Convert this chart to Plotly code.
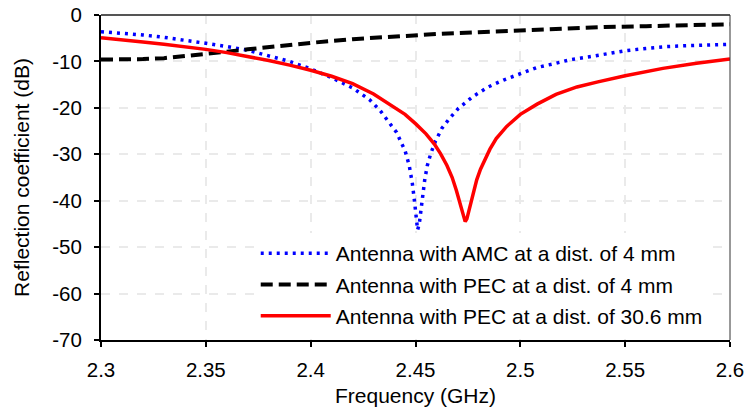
import plotly.graph_objects as go

# Antenna with AMC at 4 mm (blue dotted)
freq_amc = [2.300, 2.310, 2.320, 2.330, 2.340, 2.350, 2.360, 2.370, 2.380, 2.390,
            2.400, 2.410, 2.420, 2.428, 2.433, 2.436, 2.439, 2.441, 2.443, 2.445,
            2.447, 2.4485, 2.4495, 2.4503, 2.451, 2.4518, 2.4525, 2.4533, 2.4544, 2.4556,
            2.4573, 2.4595, 2.4626, 2.4660, 2.4705, 2.4773, 2.4847, 2.4920, 2.5000, 2.5080,
            2.5160, 2.5240, 2.5330, 2.5420, 2.5500, 2.5600, 2.5700, 2.5800, 2.5900, 2.6000]
s11_amc = [-3.6, -3.9, -4.3, -4.8, -5.4, -6.1, -6.8, -7.6, -8.8, -10.0,
           -11.6, -13.5, -15.7, -18.2, -20.5, -22.3, -24.0, -25.3, -27.3, -29.2,
           -32.4, -36.3, -40.0, -43.8, -46.3, -45.0, -42.3, -39.3, -35.5, -32.5,
           -29.8, -27.2, -24.4, -22.4, -20.1, -17.6, -15.5, -14.0, -12.6, -11.3,
           -10.5, -9.6, -9.0, -8.3, -7.7, -7.2, -6.8, -6.6, -6.4, -6.3]

# Antenna with PEC at 4 mm (black dashed)
freq_pec4 = [2.300, 2.310, 2.320, 2.330, 2.340, 2.350, 2.360, 2.370, 2.380, 2.390,
             2.400, 2.420, 2.440, 2.460, 2.480, 2.500, 2.520, 2.540, 2.560, 2.580, 2.600]
s11_pec4 = [-9.6, -9.6, -9.5, -9.3, -8.9, -8.4, -7.9, -7.4, -6.9, -6.4,
            -6.0, -5.2, -4.6, -4.1, -3.7, -3.3, -2.9, -2.6, -2.4, -2.2, -2.0]

# Antenna with PEC at 30.6 mm (red solid)
freq_pec30 = [2.300, 2.310, 2.320, 2.330, 2.340, 2.350, 2.360, 2.370, 2.380, 2.390,
              2.400, 2.410, 2.420, 2.430, 2.437, 2.445, 2.450, 2.455, 2.459, 2.462,
              2.465, 2.4675, 2.4695, 2.471, 2.472, 2.473, 2.4737, 2.4745, 2.4755, 2.4768,
              2.478, 2.4792, 2.481, 2.483, 2.4855, 2.4885, 2.4935, 2.500, 2.508, 2.517,
              2.527, 2.537, 2.550, 2.568, 2.584, 2.600]
s11_pec30 = [-4.9, -5.3, -5.8, -6.3, -6.8, -7.4, -8.1, -8.9, -9.8, -10.8,
             -11.9, -13.2, -14.8, -17.0, -19.0, -21.4, -23.4, -25.6, -27.8, -29.9,
             -32.4, -35.0, -37.8, -40.3, -42.2, -43.9, -44.5, -43.9, -42.0, -39.8,
             -37.5, -35.5, -33.2, -31.1, -28.9, -26.6, -24.0, -21.4, -19.2, -17.1,
             -15.5, -14.4, -13.1, -11.5, -10.4, -9.5]

names = ["Antenna with AMC at a dist. of 4 mm",
         "Antenna with PEC at a dist. of 4 mm",
         "Antenna with PEC at a dist. of 30.6 mm"]

x_ticks = [2.3, 2.35, 2.4, 2.45, 2.5, 2.55, 2.6]
x_ticktext = ["2.3", "2.35", "2.4", "2.45", "2.5", "2.55", "2.6"]
y_ticks = [0, -10, -20, -30, -40, -50, -60, -70]
y_ticktext = ["0", "-10", "-20", "-30", "-40", "-50", "-60", "-70"]

FONT = "Liberation Sans, Arial, sans-serif"

fig = go.Figure()
fig.add_trace(go.Scatter(x=freq_amc, y=s11_amc, mode="lines", name=names[0],
                         legendgroup="a",
                         line=dict(color="#0000FF", width=3.5, dash="3px,5px")))
fig.add_trace(go.Scatter(x=freq_pec4, y=s11_pec4, mode="lines", name=names[1],
                         legendgroup="b",
                         line=dict(color="#000000", width=4, dash="12px,6px")))
fig.add_trace(go.Scatter(x=freq_pec30, y=s11_pec30, mode="lines", name=names[2],
                         legendgroup="c",
                         line=dict(color="#FF0000", width=3.5)))

fig.update_layout(
    width=746, height=415,
    margin=dict(l=101, r=16, t=15, b=75),
    paper_bgcolor="white", plot_bgcolor="white",
    font=dict(family=FONT, size=20.5, color="black"),
    showlegend=True,
    legend=dict(x=0.246, xanchor="left", y=0.012, yanchor="bottom",
                bgcolor="white", borderwidth=0,
                font=dict(size=21, family=FONT, color="black"),
                traceorder="grouped", tracegroupgap=1,
                itemwidth=70),
    xaxis=dict(range=[2.3, 2.6], tickvals=x_ticks, ticktext=x_ticktext,
               showline=True, linecolor="black", linewidth=2,
               ticks="outside", ticklen=5, tickwidth=1.5, tickcolor="black",
               showgrid=True, gridcolor="#EAEAEA", gridwidth=1.5, griddash="dash",
               zeroline=False, automargin=False, ticklabelstandoff=5,
               title=dict(text="Frequency (GHz)", font=dict(size=21), standoff=9),
               tickfont=dict(size=20.5)),
    yaxis=dict(range=[-70, 0], tickvals=y_ticks, ticktext=y_ticktext,
               showline=True, linecolor="black", linewidth=2,
               ticks="outside", ticklen=5, tickwidth=1.5, tickcolor="black",
               showgrid=True, gridcolor="#EAEAEA", gridwidth=1.5, griddash="dash",
               zeroline=False, automargin=False, ticklabelstandoff=8,
               title=dict(text="Reflection coefficient (dB)", font=dict(size=21), standoff=17),
               tickfont=dict(size=20.5)),
)

# frame top and right (grey)
fig.add_shape(type="line", xref="paper", yref="paper", x0=0, x1=1, y0=1, y1=1,
              line=dict(color="#555555", width=2), layer="above")
fig.add_shape(type="line", xref="paper", yref="paper", x0=1, x1=1, y0=0, y1=1,
              line=dict(color="#333333", width=1), layer="above")

fig.write_html("out.html")
